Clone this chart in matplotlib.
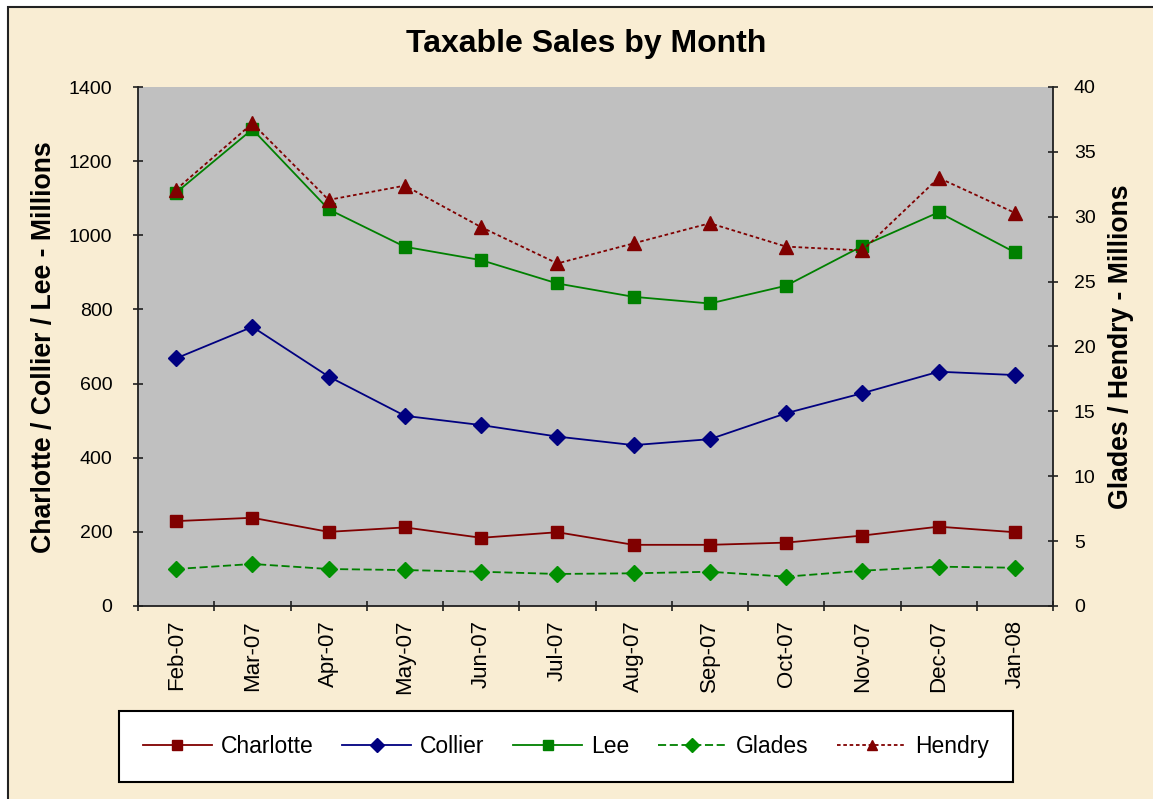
import matplotlib
matplotlib.use("Agg")
import matplotlib.pyplot as plt
from matplotlib.patches import Rectangle

plt.rcParams['font.family'] = ['Liberation Sans', 'DejaVu Sans']

months = ["Feb-07", "Mar-07", "Apr-07", "May-07", "Jun-07", "Jul-07",
          "Aug-07", "Sep-07", "Oct-07", "Nov-07", "Dec-07", "Jan-08"]

# left axis (millions)
charlotte = [229, 238, 200, 212, 184, 199, 165, 165, 171, 190, 214, 199]
collier = [668, 753, 619, 513, 488, 457, 434, 450, 520, 574, 632, 623]
lee = [1115, 1286, 1070, 969, 933, 870, 834, 816, 864, 971, 1062, 954]

# right axis (millions)
glades = [2.85, 3.24, 2.85, 2.77, 2.64, 2.47, 2.52, 2.64, 2.26, 2.72, 3.03, 2.95]
hendry = [32.1, 37.2, 31.3, 32.4, 29.2, 26.4, 27.95, 29.5, 27.7, 27.4, 33.0, 30.3]

PAPER = '#F9EDD3'
W, H = 1153, 799

fig = plt.figure(figsize=(W / 100, H / 100), dpi=100, facecolor='white')

# parchment panel behind the chart
fig.add_artist(Rectangle((8 / W, -0.05), 1.1, 1.05 - 7 / H, transform=fig.transFigure,
                         facecolor=PAPER, edgecolor='#222222', lw=1.5, zorder=-10))

ax = fig.add_axes([138 / W, 1 - 606 / H, 915 / W, 519 / H])
ax.set_facecolor('#C0C0C0')
ax2 = ax.twinx()

x = list(range(len(months)))

l1, = ax.plot(x, charlotte, color='#800000', lw=1.3, marker='s', ms=8.5,
              mfc='#800000', mec='#800000', label='Charlotte')
l2, = ax.plot(x, collier, color='#000080', lw=1.3, marker='D', ms=8.5,
              mfc='#000080', mec='#000080', label='Collier')
l3, = ax.plot(x, lee, color='#008000', lw=1.3, marker='s', ms=8.5,
              mfc='#008000', mec='#008000', label='Lee')
l4, = ax2.plot(x, glades, color='#008000', lw=1.3, ls=(0, (4.5, 2)), marker='D', ms=8.5,
               mfc='#009000', mec='#009000', label='Glades')
l5, = ax2.plot(x, hendry, color='#800000', lw=1.3, ls=(0, (2, 1.5)), marker='^', ms=9.5,
               mfc='#800000', mec='#800000', label='Hendry')

ax.set_xlim(-0.5, 11.5)
ax.set_ylim(0, 1400)
ax.set_yticks(range(0, 1401, 200))
ax2.set_ylim(0, 40)
ax2.set_yticks(range(0, 41, 5))

ax.set_xticks(x)
ax.set_xticklabels(months, rotation=90)
ax.set_xticks([i - 0.5 for i in range(13)], minor=True)

for a in (ax, ax2):
    for s in a.spines.values():
        s.set_color('#202020')
        s.set_linewidth(1.3)
    a.spines['top'].set_visible(False)
ax.spines['right'].set_visible(False)
ax2.spines['left'].set_visible(False)
ax2.spines['bottom'].set_visible(False)

ax.tick_params(axis='x', which='major', length=0, pad=10, labelsize=16)
ax.tick_params(axis='x', which='minor', direction='inout', length=7, width=1.2, color='#202020')
ax.tick_params(axis='y', direction='inout', length=7, width=1.2, color='#202020',
               pad=15, labelsize=14)
ax2.tick_params(axis='y', direction='inout', length=7, width=1.2, color='#202020',
                pad=11.5, labelsize=14)

fig.text(586 / W, 1 - 44 / H, "Taxable Sales by Month", ha='center', va='center',
         fontsize=23, fontweight='bold')
fig.text(44 / W, 1 - 347 / H, "Charlotte / Collier / Lee - Millions", rotation=90,
         ha='center', va='center', fontsize=19.2, fontweight='bold')
fig.text(1121 / W, 1 - 347 / H, "Glades / Hendry - Millions", rotation=90,
         ha='center', va='center', fontsize=19.2, fontweight='bold')

leg = fig.legend([l1, l2, l3, l4, l5], ['Charlotte', 'Collier', 'Lee', 'Glades', 'Hendry'],
                 loc='center', bbox_to_anchor=(566 / W, 1 - 746.5 / H), ncol=5,
                 fontsize=16.5, frameon=True, fancybox=False, framealpha=1,
                 facecolor='white', edgecolor='black', handlelength=3.0,
                 handletextpad=0.4, columnspacing=1.25, borderpad=1.05, markerscale=0.8)
leg.get_frame().set_linewidth(1.5)

fig.savefig("out.png", dpi=100, facecolor=fig.get_facecolor())
